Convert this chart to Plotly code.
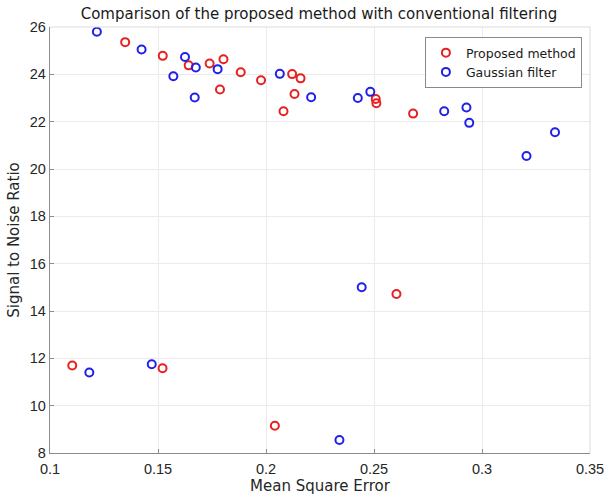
import plotly.graph_objects as go

proposed_mse = [0.1348, 0.1522, 0.1642, 0.1739, 0.1803, 0.1787, 0.1883, 0.1977, 0.2121, 0.2160,
                0.2132, 0.2081, 0.2508, 0.2511, 0.2681, 0.1103, 0.1521, 0.2041, 0.2604]
proposed_snr = [25.36, 24.78, 24.38, 24.46, 24.64, 23.36, 24.09, 23.75, 24.01, 23.83,
                23.17, 22.44, 22.96, 22.78, 22.34, 11.70, 11.58, 9.15, 14.72]

gauss_mse = [0.1217, 0.1424, 0.1625, 0.1675, 0.1571, 0.1670, 0.1776, 0.2064, 0.2209, 0.2425,
             0.2483, 0.2825, 0.2928, 0.2941, 0.3338, 0.3206, 0.1182, 0.1471, 0.2340, 0.2443]
gauss_snr = [25.80, 25.05, 24.73, 24.29, 23.92, 23.02, 24.22, 24.02, 23.03, 23.00,
             23.26, 22.44, 22.60, 21.95, 21.55, 20.55, 11.40, 11.75, 8.55, 15.00]

x_ticks = [0.1, 0.15, 0.2, 0.25, 0.3, 0.35]
y_ticks = [8, 10, 12, 14, 16, 18, 20, 22, 24, 26]

TEXT_FONT = "DejaVu Sans"
TICK_FONT = "Liberation Sans"
RED = "#e82020"
BLUE = "#2020e8"

fig = go.Figure()
fig.add_trace(go.Scatter(
    x=proposed_mse, y=proposed_snr, mode="markers", name="Proposed method",
    marker=dict(symbol="circle-open", size=8, color=RED, line=dict(width=2, color=RED)),
))
fig.add_trace(go.Scatter(
    x=gauss_mse, y=gauss_snr, mode="markers", name="Gaussian filter",
    marker=dict(symbol="circle-open", size=8, color=BLUE, line=dict(width=2, color=BLUE)),
))

axis_common = dict(
    showline=True, linecolor="#8c8c8c", linewidth=1.3, mirror=False,
    showgrid=True, gridcolor="#ebebeb", gridwidth=1,
    ticks="inside", ticklen=4, tickcolor="#8c8c8c",
    zeroline=False, automargin=False, ticklabeloverflow="allow",
    tickfont=dict(family=TICK_FONT, size=14.5, color="#262626"),
)

# light box edges on top and right (MATLAB style)
fig.add_shape(type="line", xref="paper", yref="paper", x0=0, x1=1, y0=1, y1=1,
              line=dict(color="#dcdcdc", width=1))
fig.add_shape(type="line", xref="paper", yref="paper", x0=1, x1=1, y0=0, y1=1,
              line=dict(color="#dcdcdc", width=1))

fig.update_layout(
    width=604, height=498,
    margin=dict(l=50, r=14, t=27, b=45),
    paper_bgcolor="white", plot_bgcolor="white",
    font=dict(family=TEXT_FONT, color="#262626"),
    title=dict(text="Comparison of the proposed method with conventional filtering",
               x=319 / 604, xanchor="center", xref="container",
               y=1 - 14 / 498, yanchor="middle", yref="container",
               font=dict(family=TEXT_FONT, size=15, color="#1a1a1a")),
    xaxis=dict(range=[0.1, 0.35], tickvals=x_ticks, ticktext=[str(v) for v in x_ticks],
               ticklabelstandoff=2,
               title=dict(text="Mean Square Error", font=dict(family=TEXT_FONT, size=15), standoff=4),
               **axis_common),
    yaxis=dict(range=[8, 26], tickvals=y_ticks, ticktext=[str(v) for v in y_ticks],
               title=dict(text="Signal to Noise Ratio", font=dict(family=TEXT_FONT, size=15), standoff=6),
               **axis_common),
    legend=dict(x=0.985, y=0.9765, xanchor="right", yanchor="top",
                bgcolor="white", bordercolor="#8a8a8a", borderwidth=1,
                font=dict(family=TEXT_FONT, size=12.5, color="#1a1a1a"),
                tracegroupgap=0),
    showlegend=True,
    hovermode=False,
)

fig.write_html("out.html", config={"displayModeBar": False},
               post_script="document.body.style.margin='0';document.body.style.overflow='hidden';")
